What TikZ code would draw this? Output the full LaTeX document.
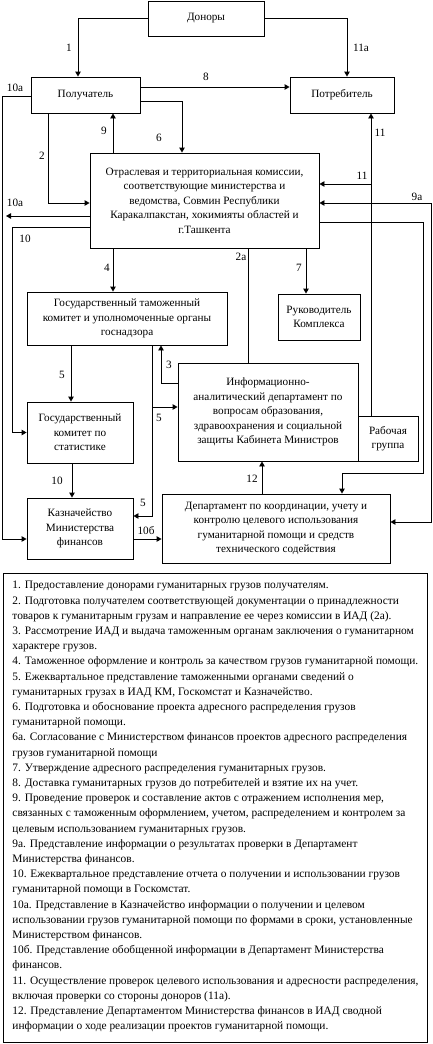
\documentclass[tikz,border=0pt]{standalone}
\usepackage{fontspec}
\setmainfont{Liberation Serif}
\usetikzlibrary{arrows.meta, positioning, calc}
\tikzset{
  every picture/.style={font=\fontsize{11.2}{14.5}\selectfont, line width=0.9pt},
  box/.style={draw, align=center, inner sep=1pt},
  link/.style={-{Triangle[length=5pt, width=5.5pt]}},
  duplex/.style={{Triangle[length=5pt, width=5.5pt]}-{Triangle[length=5pt, width=5.5pt]}},
  num/.style={inner sep=0pt},
  legbox/.style={draw, minimum width=424, minimum height=469, anchor=north west},
  legtext/.style={align=left, anchor=north west, inner sep=0pt, font=\fontsize{11.4}{15.2}\selectfont},
}

\begin{document}
\begin{tikzpicture}[x=1pt, y=-1pt]
  \useasboundingbox (0,0) rectangle (433,1044);
  % the boxes of the scheme
  \foreach \n/\x/\y/\w/\h/\t in {
      donors/206/18.5/116/35/Доноры,
      recip/85.5/95/109/36/Получатель,
      cons/342/95/104/36/Потребитель,
      comm/204.5/200.5/229/95/{Отраслевая и территориальная комиссии,\\соответствующие министерства и\\ведомства, Совмин Республики\\Каракалпакстан, хокимияты областей и\\г.Ташкента},
      customs/127/318.5/200/53/{Государственный таможенный\\комитет и уполномоченные органы\\госнадзора},
      head/319/317/82/46/{Руководитель\\Комплекса},
      iad/268/412/180/98/{Информационно-\\аналитический департамент по\\вопросам образования,\\здравоохранения и социальной\\защиты Кабинета Министров},
      wg/388/438.5/60/45/{Рабочая\\группа},
      stat/80/432.5/106/61/{Государственный\\комитет по\\статистике},
      treas/80/528.5/106/61/{Казначейство\\Министерства\\финансов},
      dept/276/528.5/228/69/{Департамент по координации, учету и\\контролю целевого использования\\гуманитарной помощи и средств\\технического содействия}}
    \node[box, minimum width=\w, minimum height=\h] (\n) at (\x,\y) {\t};
  \coordinate (out10a) at (6,216);
  \coordinate (j11) at (371,184);
  \coordinate (j5) at (152,407);
  % connectors
  \draw[link] (donors.west) -| ([xshift=-7.5]recip.north);
  \draw[link] (donors.east) -| ([xshift=5]cons.north);
  \draw[link] ([yshift=8]recip.east) -- ([yshift=8]recip.east -| cons.west);
  \draw[link] ([yshift=-6]recip.east) -| ([xshift=-22.5]comm.north);
  \draw[link] ([xshift=27.5]recip.south |- comm.north) -- ([xshift=27.5]recip.south);
  \draw[link] ([xshift=-37.5]recip.south) |- (comm.west |- 0,203);
  \draw[link] ([yshift=-1]recip.west) -- (2,96) |- (treas.west |- 0,539);
  \draw[link] (comm.west |- out10a) -- (out10a);
  \draw[link] (comm.west |- 0,227) -- (12,227) |- (stat.west);
  \draw[link] (comm.south -| 113,0) -- (customs.north -| 113,0);
  \draw (comm.south -| 248,0) -- (iad.north -| 248,0);
  \draw[link] (comm.south -| 306,0) -- (head.north -| 306,0);
  \draw[link] (wg.north -| j11) -- (cons.south -| j11);
  \draw[link] (j11) -- (comm.east |- j11);
  \draw[duplex] (comm.east |- 0,203) -- (431,203) |- (dept.east |- 0,522);
  \draw[link] (comm.east |- 0,222) -- (423,222) -- (423,473) -- (342,473) -- (dept.north -| 342,0);
  \draw[link] (iad.west |- 0,383) -| (customs.south -| 161,0);
  \draw[link] (customs.south -| 71,0) -- (stat.north -| 71,0);
  \draw[link] (customs.south -| j5) |- (treas.east |- 0,516);
  \draw[link] (j5) -- (iad.west |- j5);
  \draw[link] (stat.south -| 72,0) -- (treas.north -| 72,0);
  \draw[link] (treas.east |- 0,539) -- (dept.west |- 0,539);
  \draw[link] (dept.north -| 262,0) -- (iad.south -| 262,0);
  % numbers on the connectors
  \foreach \n/\x/\y/\t in {n1/69/48/1, n11a/361/48/11а, n8/206/77/8, n10a/15/88/10а, n9/104/131/9,
      n6/159/138/6, n11/380/133/11, n2/42/156/2, n11b/362/176/11, n9a/417/197/9а, n10b/15/203/10а,
      n10/25/239/10, n4/107/268/4, n2a/241/257/2а, n7/299/268/7, n3/169/365/3, n5/62/375/5,
      n5b/159/418/5, n10c/57/481/10, n5c/143/503/5, n12/252/479/12, n10d/146/531/10б}
    \node[num] (\n) at (\x,\y) {\t};
  % the legend
  \node[legbox] (legend) at (3,573) {};
  \node[legtext] (legtxt) at (12,581) {1. Предоставление донорами гуманитарных грузов получателям.\\
2. Подготовка получателем соответствующей документации о принадлежности\\
товаров к гуманитарным грузам и направление ее через комиссии в ИАД (2а).\\
3. Рассмотрение ИАД и выдача таможенным органам заключения о гуманитарном\\
характере грузов.\\
4. Таможенное оформление и контроль за качеством грузов гуманитарной помощи.\\
5. Ежеквартальное представление таможенными органами сведений о\\
гуманитарных грузах в ИАД КМ, Госкомстат и Казначейство.\\
6. Подготовка и обоснование проекта адресного распределения грузов\\
гуманитарной помощи.\\
6а. Согласование с Министерством финансов проектов адресного распределения\\
грузов гуманитарной помощи\\
7. Утверждение адресного распределения гуманитарных грузов.\\
8. Доставка гуманитарных грузов до потребителей и взятие их на учет.\\
9. Проведение проверок и составление актов с отражением исполнения мер,\\
связанных с таможенным оформлением, учетом, распределением и контролем за\\
целевым использованием гуманитарных грузов.\\
9а. Представление информации о результатах проверки в Департамент\\
Министерства финансов.\\
10. Ежеквартальное представление отчета о получении и использовании грузов\\
гуманитарной помощи в Госкомстат.\\
10а. Представление в Казначейство информации о получении и целевом\\
использовании грузов гуманитарной помощи по формами в сроки, установленные\\
Министерством финансов.\\
10б. Представление обобщенной информации в Департамент Министерства\\
финансов.\\
11. Осуществление проверок целевого использования и адресности распределения,\\
включая проверки со стороны доноров (11а).\\
12. Представление Департаментом Министерства финансов в ИАД сводной\\
информации о ходе реализации проектов гуманитарной помощи.};
\end{tikzpicture}
\end{document}
